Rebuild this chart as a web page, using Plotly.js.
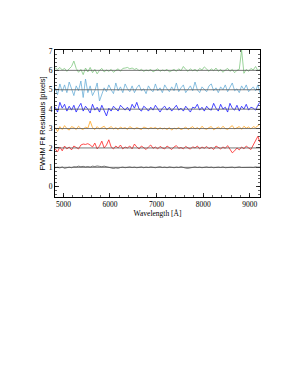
<!DOCTYPE html>
<html><head><meta charset="utf-8">
<script src="https://cdn.plot.ly/plotly-3.0.1.min.js"></script>
<style>html,body{margin:0;padding:0;background:#fff}</style>
</head><body><div id="chart" style="width:300px;height:388px"></div>
<script>
var wavelength = [4825,4875,4925,4975,5025,5075,5125,5175,5225,5275,5325,5375,5425,5475,5525,5575,5625,5675,5725,5775,5825,5875,5925,5975,6025,6075,6125,6175,6225,6275,6325,6375,6425,6475,6525,6575,6625,6675,6725,6775,6825,6875,6925,6975,7025,7075,7125,7175,7225,7275,7325,7375,7425,7475,7525,7575,7625,7675,7725,7775,7825,7875,7925,7975,8025,8075,8125,8175,8225,8275,8325,8375,8425,8475,8525,8575,8625,8675,8725,8775,8825,8875,8925,8975,9025,9075,9125,9175,9215];

var resid6 = [6.12,6.05,6.15,6.02,6.10,5.95,6.08,6.20,6.48,6.10,5.90,6.05,5.78,6.12,5.92,6.15,5.88,6.05,5.82,6.00,6.10,5.92,6.02,5.95,6.05,5.90,6.00,6.08,5.95,6.10,6.12,6.15,6.08,6.12,6.05,6.10,5.98,6.05,5.95,6.02,5.98,6.05,5.92,6.00,6.08,5.95,6.02,5.98,6.05,5.92,6.00,6.05,5.95,6.08,5.98,6.20,6.05,5.95,6.08,5.98,6.05,5.95,6.10,6.02,6.18,6.05,5.95,6.08,5.98,6.12,5.95,6.05,5.90,6.02,6.10,5.95,6.05,5.88,6.00,6.05,7.05,5.85,6.05,5.95,6.10,6.02,6.20,5.98,6.05];

var resid5 = [5.10,4.75,5.30,4.90,5.25,4.85,5.40,5.05,4.70,5.20,4.95,5.45,4.60,5.55,4.85,5.20,4.70,4.95,5.35,4.42,4.80,5.10,4.90,5.25,5.00,4.80,5.35,4.95,5.15,4.85,5.30,5.05,4.90,5.20,4.85,5.10,5.25,4.95,5.05,4.80,5.20,5.00,4.90,5.30,4.95,5.10,4.85,5.25,5.05,4.90,5.15,4.95,5.35,4.90,5.10,5.25,4.85,5.05,5.20,4.95,5.40,5.00,4.85,5.15,5.05,4.90,5.20,5.30,4.95,5.10,4.85,5.15,5.00,5.25,4.90,5.10,5.35,4.95,5.05,4.85,5.20,5.00,5.25,4.90,5.05,5.15,4.95,5.25,4.85];

var resid4 = [4.10,3.85,4.35,4.05,4.25,3.90,4.15,3.95,4.20,3.85,4.10,4.30,3.90,4.15,4.00,3.80,4.25,3.95,4.10,3.85,4.20,3.95,3.65,4.05,3.90,4.15,4.00,3.90,4.20,4.05,3.95,4.10,3.90,4.25,4.05,4.35,4.00,3.90,4.15,4.05,3.90,4.10,3.95,4.20,4.00,3.85,4.05,4.15,3.95,4.10,3.90,4.05,4.20,3.95,4.05,3.90,4.15,4.00,3.85,4.10,4.05,4.25,3.95,4.10,3.90,4.15,4.00,3.95,4.30,4.05,3.90,4.25,4.00,4.10,3.85,4.30,4.05,3.95,4.20,3.90,4.15,4.00,4.25,3.95,4.10,4.05,3.95,4.20,4.35];

var resid3 = [3.05,2.85,3.10,2.95,3.15,3.00,2.92,3.10,3.05,2.95,3.12,3.00,2.95,3.08,3.02,3.38,3.05,2.95,3.10,2.98,3.05,3.12,2.95,3.02,3.10,2.98,3.05,2.95,3.08,3.00,3.05,2.95,3.10,3.02,2.98,3.05,3.00,2.95,3.08,3.02,2.98,3.05,3.00,3.06,2.96,3.04,2.98,3.02,2.95,3.05,2.92,3.02,2.98,3.05,2.95,3.00,3.08,2.95,3.02,3.10,2.98,3.05,2.95,3.12,3.00,2.96,3.05,3.10,2.94,3.02,3.08,2.98,3.12,3.00,2.95,3.06,3.15,2.98,3.05,3.10,2.96,3.12,3.02,3.08,2.98,3.10,3.05,3.15,3.22];

var resid2 = [1.95,1.80,2.05,1.85,2.10,1.95,2.05,1.90,2.10,2.00,1.95,2.15,2.20,2.18,2.22,2.15,2.05,2.25,1.95,2.10,2.35,2.00,2.15,2.42,2.05,1.95,2.10,2.00,2.15,1.95,2.05,2.00,2.10,1.95,2.20,2.05,1.95,2.10,2.00,1.92,2.05,2.15,1.98,2.05,1.95,2.08,2.00,1.95,2.10,2.00,1.92,2.05,2.12,1.98,2.02,1.95,2.08,2.00,1.94,2.06,2.00,2.10,1.95,2.05,1.98,2.08,1.96,2.02,1.92,2.10,2.00,1.95,2.05,1.98,2.12,1.95,1.75,1.85,2.00,1.90,2.05,1.95,2.10,2.00,1.92,2.15,2.35,2.60,2.30];

var resid1 = [0.98,1.00,0.97,1.02,0.95,0.99,1.01,0.98,1.03,1.02,1.06,1.03,1.05,1.02,1.04,1.01,1.06,1.04,1.07,1.05,1.03,1.06,1.02,0.98,0.96,0.94,0.97,0.95,0.99,1.01,0.98,1.00,1.02,0.99,1.01,0.98,1.00,1.02,0.98,1.01,0.99,1.02,1.00,0.98,1.01,1.03,0.99,1.01,0.98,1.02,1.00,0.98,1.01,0.99,1.03,0.98,0.96,0.95,0.98,1.00,1.02,0.99,1.01,0.98,1.00,1.02,0.99,1.01,0.98,1.00,1.01,0.99,1.02,0.98,1.00,0.99,1.01,0.98,1.00,1.02,0.99,1.00,0.98,1.01,1.00,0.99,1.02,1.00,1.01];

var levels = [1,2,3,4,5,6];
var series = [resid1, resid2, resid3, resid4, resid5, resid6];
var colors = ['#555555','#ff2020','#ffa520','#1a1aff','#6aaed8','#80c880'];

var traces = series.map(function(s, i){
  return {x: wavelength, y: s, type:'scatter', mode:'lines',
          line:{color: colors[i], width:0.8}, hoverinfo:'skip'};
});

var shapes = levels.map(function(v){
  return {type:'line', xref:'paper', x0:0, x1:1, yref:'y', y0:v, y1:v,
          line:{color:'#555555', width:0.8}, layer:'above'};
});

var serif = 'Liberation Serif, Times New Roman, serif';
var layout = {
  width:300, height:388,
  margin:{l:55, r:40, t:50, b:191},
  showlegend:false,
  paper_bgcolor:'#fff', plot_bgcolor:'#fff',
  shapes: shapes,
  xaxis:{range:[4820,9220], tickvals:[5000,6000,7000,8000,9000],
    ticks:'inside', ticklen:4, tickwidth:0.8, tickcolor:'#000',
    minor:{dtick:200, ticks:'inside', ticklen:2, tickcolor:'#000', tickwidth:0.6},
    showgrid:false, zeroline:false, showline:true, linecolor:'#000', linewidth:1, mirror:'allticks',
    tickfont:{family:serif, size:7.5, color:'#000'},
    title:{text:'Wavelength [Å]', font:{family:serif, size:7.5, color:'#000'}, standoff:0}},
  yaxis:{range:[-0.53,7.05], tickvals:[0,1,2,3,4,5,6,7],
    ticks:'inside', ticklen:4, tickwidth:0.8, tickcolor:'#000',
    minor:{dtick:0.2, ticks:'inside', ticklen:2, tickcolor:'#000', tickwidth:0.6},
    showgrid:false, zeroline:false, showline:true, linecolor:'#000', linewidth:1, mirror:'allticks',
    tickfont:{family:serif, size:7.5, color:'#000'},
    title:{text:'FWHM Fit Residuals [pixels]', font:{family:'Liberation Sans, Arial, sans-serif', size:7.5, color:'#000'}, standoff:2}}
};
Plotly.newPlot('chart', traces, layout, {displayModeBar:false, staticPlot:true});
</script></body></html>
